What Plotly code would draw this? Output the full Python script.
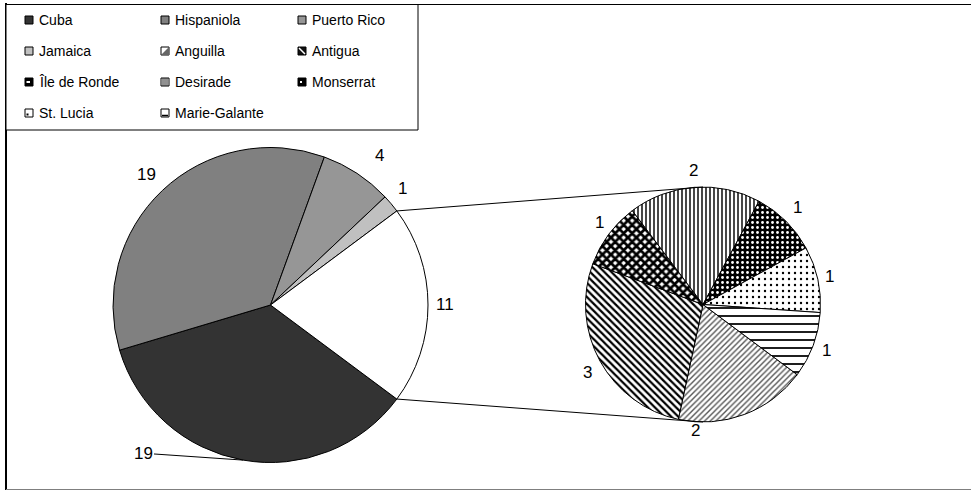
import math
import plotly.graph_objects as go

W, H = 971, 491

# ---- data -------------------------------------------------------------
# Primary pie: the large islands plus one combined wedge for the rest
main_labels = ["Cuba", "Hispaniola", "Puerto Rico", "Jamaica", "Other"]
main_values = [19, 19, 4, 1, 11]

# Secondary pie: the islands that make up the combined wedge
sub_labels = ["Anguilla", "Antigua", "Île de Ronde", "Desirade",
              "Monserrat", "St. Lucia", "Marie-Galante"]
sub_values = [2, 3, 1, 2, 1, 1, 1]

# ---- styling ----------------------------------------------------------
main_colors = ["#333333", "#808080", "#969696", "#C0C0C0", "#FFFFFF"]

sub_shape = ["/", "\\", "x", "|", ".", ".", "-"]
sub_fg = ["#555555", "#000000", "#000000", "#333333", "#FFFFFF", "#000000", "#000000"]
sub_bg = ["#FFFFFF", "#FFFFFF", "#FFFFFF", "#FFFFFF", "#000000", "#FFFFFF", "#FFFFFF"]
sub_size = [4, 5, 6, 4, 5, 6, 8]
sub_solid = [0.35, 0.45, 0.7, 0.45, 0.25, 0.12, 0.22]

FONT = "Arial, 'Liberation Sans', sans-serif"

# pie geometry (pixels)
MAIN_C, MAIN_R = (270.5, 305.0), 157.5
SUB_C, SUB_R = (703.0, 304.5), 117.5

# label placement: radial gap beyond the rim, and a counter-clockwise
# angular nudge in degrees
main_pad = [38, 22.5, 28, 19, 17]
main_nudge = [-30.7, 0, -2.8, 1.4, 0]
sub_pad = [9, 16, 14.5, 17, 18.5, 12.5, 14.5]
sub_nudge = [-24, 1.6, -2, -0.4, 0.6, 0, 0]


def px(x, y):
    return x / W, 1 - y / H


def domain(c, r):
    return dict(x=[(c[0] - r) / W, (c[0] + r) / W],
                y=[1 - (c[1] + r) / H, 1 - (c[1] - r) / H])


def rim_point(c, r, compass_deg):
    a = math.radians(compass_deg)
    return c[0] + r * math.sin(a), c[1] - r * math.cos(a)


def mid_angles(values, start):
    tot = sum(values)
    out, cum = [], 0
    for v in values:
        out.append(start + (cum + v / 2) / tot * 360)
        cum += v
    return out


# the combined wedge is centred on 3 o'clock; slices run clockwise
total = sum(main_values)
half_other = main_values[-1] / total * 180
start = 90 + half_other  # compass bearing where the first slice begins

fig = go.Figure()

fig.add_trace(go.Pie(
    labels=main_labels, values=main_values, sort=False,
    direction="clockwise", rotation=start,
    marker=dict(colors=main_colors, line=dict(color="#000000", width=1)),
    textinfo="none", hoverinfo="label+value", showlegend=False,
    domain=domain(MAIN_C, MAIN_R),
))

fig.add_trace(go.Pie(
    labels=sub_labels, values=sub_values, sort=False,
    direction="clockwise", rotation=start,
    marker=dict(colors=sub_bg, line=dict(color="#000000", width=1),
                pattern=dict(shape=sub_shape, fgcolor=sub_fg, bgcolor=sub_bg,
                             size=sub_size, solidity=sub_solid,
                             fillmode="replace")),
    textinfo="none", hoverinfo="label+value", showlegend=False,
    domain=domain(SUB_C, SUB_R),
))

shapes = []
annotations = []

# connector lines from the combined wedge to the secondary pie
for sgn in (1, -1):
    bx, by = rim_point(MAIN_C, MAIN_R, 90 - sgn * half_other)
    ex, ey = SUB_C[0], SUB_C[1] - sgn * SUB_R
    x0, y0 = px(bx, by)
    x1, y1 = px(ex, ey)
    shapes.append(dict(type="line", xref="paper", yref="paper",
                       x0=x0, y0=y0, x1=x1, y1=y1,
                       line=dict(color="#000000", width=1)))


# value labels
def add_labels(c, r, values, pads, nudges, leader_idx=None):
    mids = mid_angles(values, start)
    for i, (v, m) in enumerate(zip(values, mids)):
        # compass bearings grow clockwise, so a ccw nudge is subtracted
        lx, ly = rim_point(c, r + pads[i], m - nudges[i])
        if i == leader_idx:
            ax_, ay_ = rim_point(c, r, m)
            x, y = px(ax_, ay_)
            annotations.append(dict(
                xref="paper", yref="paper", x=x, y=y,
                ax=lx - ax_, ay=ly - ay_, axref="pixel", ayref="pixel",
                text=str(v), showarrow=True, arrowhead=0, arrowwidth=1,
                arrowcolor="#000000", standoff=0,
                font=dict(family=FONT, size=17, color="#000000")))
        else:
            x, y = px(lx, ly)
            annotations.append(dict(
                xref="paper", yref="paper", x=x, y=y, text=str(v),
                showarrow=False, xanchor="center", yanchor="middle",
                font=dict(family=FONT, size=17, color="#000000")))


add_labels(MAIN_C, MAIN_R, main_values, main_pad, main_nudge, leader_idx=0)
add_labels(SUB_C, SUB_R, sub_values, sub_pad, sub_nudge)


# chart frame
def line_px(x0, y0, x1, y1, color="#000000", width=1):
    a, b = px(x0, y0)
    c, d = px(x1, y1)
    shapes.append(dict(type="line", xref="paper", yref="paper", layer="above",
                       x0=a, y0=b, x1=c, y1=d,
                       line=dict(color=color, width=width)))


def rect_px(x0, y0, x1, y1, fill, line_color="#000000", width=1):
    a, b = px(x0, y0)
    c, d = px(x1, y1)
    shapes.append(dict(type="rect", xref="paper", yref="paper", layer="above",
                       x0=a, y0=b, x1=c, y1=d, fillcolor=fill,
                       line=dict(color=line_color, width=width)))


def path_px(points, fill=None, color="#000000", width=1):
    p = " ".join(("M" if k == 0 else "L") + "%.5f,%.5f" % px(x, y)
                 for k, (x, y) in enumerate(points))
    shapes.append(dict(type="path", xref="paper", yref="paper", layer="above",
                       path=p + (" Z" if fill else ""),
                       fillcolor=fill if fill else "rgba(0,0,0,0)",
                       line=dict(color=color, width=width)))


line_px(6, 4.5, W + 2, 4.5)
line_px(6, 3, 6, 490, width=2)
line_px(6, 489.5, W + 2, 489.5, color="#7f7f7f")

# legend box
rect_px(6, 4.5, 418, 130, "#FFFFFF")

legend_names = main_labels[:4] + sub_labels
col_x = [25, 161, 298]
row_y = [20, 51, 82, 113]
S = 8

for k, name in enumerate(legend_names):
    cx0 = col_x[k % 3]
    cy = row_y[k // 3]
    x0, y0, x1, y1 = cx0, cy - S / 2, cx0 + S, cy + S / 2
    if k < 4:
        rect_px(x0, y0, x1, y1, main_colors[k])
    else:
        j = k - 4
        if j == 0:      # Anguilla
            rect_px(x0, y0, x1, y1, "#FFFFFF")
            path_px([(x0, y1), (x1, y0), (x1, y1)], fill="#666666", width=0)
        elif j == 1:    # Antigua
            rect_px(x0, y0, x1, y1, "#111111")
            line_px(x0 + 1, y0 + 1, x1 - 1, y1 - 1, color="#FFFFFF", width=1.5)
        elif j == 2:    # Île de Ronde
            rect_px(x0, y0, x1, y1, "#000000")
            rect_px(x0 + 1.5, cy - 1, x0 + 5, cy + 1, "#FFFFFF", "#FFFFFF", 0)
        elif j == 3:    # Desirade
            rect_px(x0, y0, x1, y1, "#FFFFFF")
            for xx in (x0 + 2, x0 + 4, x0 + 6):
                line_px(xx, y0, xx, y1, color="#222222", width=1)
        elif j == 4:    # Monserrat
            rect_px(x0, y0, x1, y1, "#000000")
            rect_px(x0 + 2, cy - 1, x0 + 4, cy + 1, "#FFFFFF", "#FFFFFF", 0)
        elif j == 5:    # St. Lucia
            rect_px(x0, y0, x1, y1, "#FFFFFF")
            rect_px(x0 + 1.5, y1 - 3.5, x0 + 3.5, y1 - 1.5, "#000000", "#000000", 0)
        else:           # Marie-Galante
            rect_px(x0, y0, x1, y1, "#FFFFFF")
            line_px(x0 + 1, y1 - 1.5, x1 - 1, y1 - 1.5, width=1.5)
    tx, ty = px(cx0 + 12, cy)
    annotations.append(dict(xref="paper", yref="paper", x=tx, y=ty, text=name,
                            showarrow=False, xanchor="left", yanchor="middle",
                            font=dict(family=FONT, size=14, color="#000000")))

fig.update_layout(
    width=W, height=H, autosize=False,
    margin=dict(l=0, r=0, t=0, b=0),
    paper_bgcolor="#FFFFFF", plot_bgcolor="#FFFFFF",
    shapes=shapes, annotations=annotations,
    showlegend=False,
)

fig.write_html("out.html")
